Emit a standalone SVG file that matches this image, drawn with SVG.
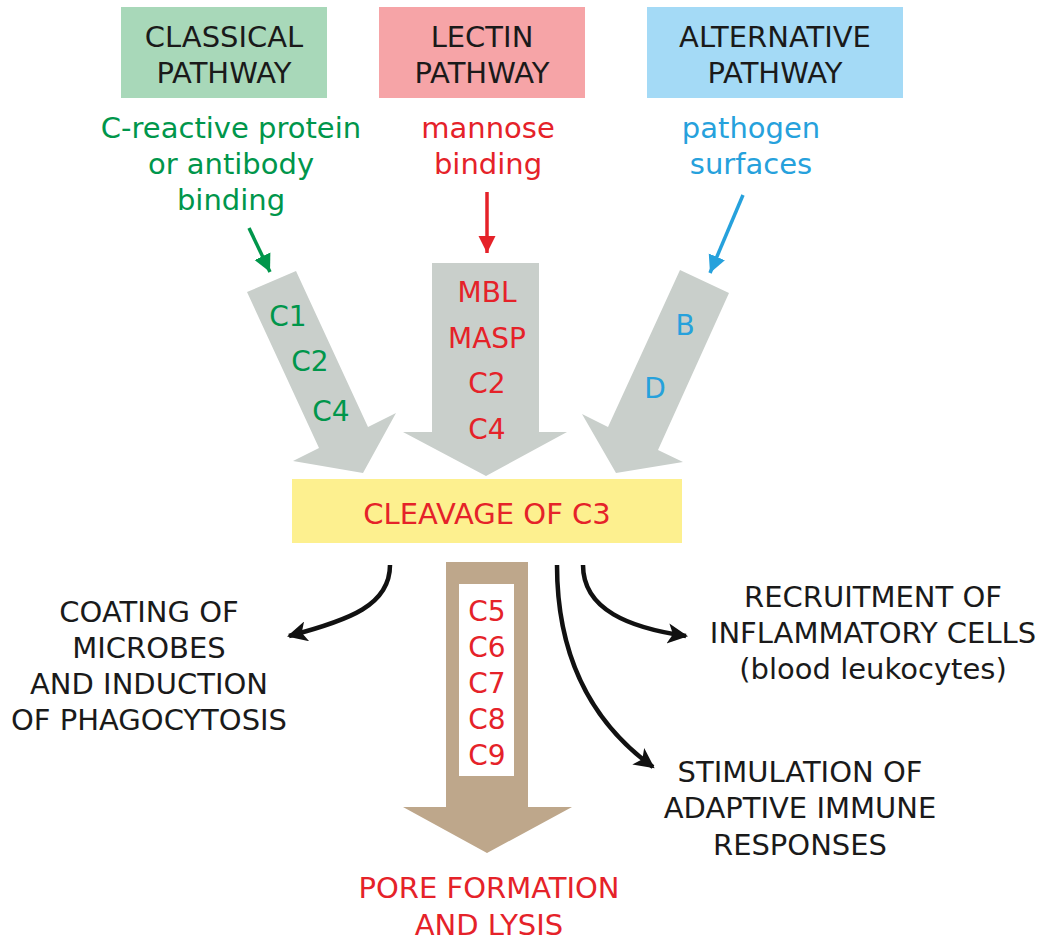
<svg xmlns="http://www.w3.org/2000/svg" width="1055" height="947" viewBox="0 0 1055 947">
<style>
text{font-family:"DejaVu Sans","Open Sans","Liberation Sans",sans-serif;font-size:29px;text-anchor:middle}
.blk{fill:#1a1a1a}
.grn{fill:#00964b}
.red{fill:#e52229}
.blu{fill:#26a1dc}
.gray{fill:#c9cfcb}
.conn{fill:none;stroke:#111;stroke-width:4.5}
.lbl{font-size:28px}
</style>
<defs>
<marker id="ah" viewBox="0 0 10 10" refX="9" refY="5" markerWidth="5" markerHeight="4.5" orient="auto" markerUnits="strokeWidth">
<path d="M0,0 L10,5 L0,10 L2.5,5 Z" fill="#111"/>
</marker>
<marker id="ahg" viewBox="0 0 10 10" refX="10" refY="5" markerWidth="5" markerHeight="5.5" orient="auto" markerUnits="strokeWidth">
<path d="M0,0 L10,5 L0,10 Z" fill="#00964b"/>
</marker>
<marker id="ahr" viewBox="0 0 10 10" refX="10" refY="5" markerWidth="5" markerHeight="5.5" orient="auto" markerUnits="strokeWidth">
<path d="M0,0 L10,5 L0,10 Z" fill="#e52229"/>
</marker>
<marker id="ahb" viewBox="0 0 10 10" refX="10" refY="5" markerWidth="5" markerHeight="5.5" orient="auto" markerUnits="strokeWidth">
<path d="M0,0 L10,5 L0,10 Z" fill="#26a1dc"/>
</marker>
</defs>
<rect width="1055" height="947" fill="#fff"/>

<g id="classical">
<rect x="121" y="7" width="206" height="91" fill="#a8d8b9"/>
<text class="blk" x="224" y="47">CLASSICAL</text>
<text class="blk" x="224" y="83">PATHWAY</text>
<text class="grn" x="231" y="138">C-reactive protein</text>
<text class="grn" x="231" y="174">or antibody</text>
<text class="grn" x="231" y="210">binding</text>
</g>

<g id="lectin">
<rect x="379" y="7" width="206" height="91" fill="#f6a4a7"/>
<text class="blk" x="482" y="47">LECTIN</text>
<text class="blk" x="482" y="83">PATHWAY</text>
<text class="red" x="488" y="138">mannose</text>
<text class="red" x="488" y="174">binding</text>
</g>

<g id="alternative">
<rect x="647" y="7" width="256" height="91" fill="#a4daf6"/>
<text class="blk" x="775" y="47">ALTERNATIVE</text>
<text class="blk" x="775" y="83">PATHWAY</text>
<text class="blu" x="751" y="138">pathogen</text>
<text class="blu" x="751" y="174">surfaces</text>
</g>

<g id="classical-arrow">
<polygon class="gray" points="247,292 296,271 368,427 396,413 363,473 293,461 319,448"/>
<text class="grn lbl" x="288" y="326">C1</text>
<text class="grn lbl" x="310" y="371">C2</text>
<text class="grn lbl" x="331" y="421">C4</text>
</g>

<g id="lectin-arrow">
<polygon class="gray" points="432,263 539,263 539,432 567,432 486,476 403,432 432,432"/>
<text class="red lbl" x="487" y="302">MBL</text>
<text class="red lbl" x="487" y="348">MASP</text>
<text class="red lbl" x="487" y="393">C2</text>
<text class="red lbl" x="487" y="439">C4</text>
</g>

<g id="alternative-arrow">
<polygon class="gray" points="680,270 729,293 658,450 683,462 616,473 582,414 608,427"/>
<text class="blu lbl" x="685" y="335">B</text>
<text class="blu lbl" x="655" y="398">D</text>
</g>

<g id="cleavage">
<rect x="292" y="479" width="390" height="64" fill="#fdf08f"/>
<text class="red" x="487" y="524">CLEAVAGE OF C3</text>
</g>

<g id="terminal">
<polygon fill="#bea78b" points="446,562 528,562 528,807 572,807 487,853 403,807 446,807"/>
<rect x="459" y="584" width="55" height="192" fill="#fff"/>
<text class="red lbl" x="487" y="621">C5</text>
<text class="red lbl" x="487" y="657">C6</text>
<text class="red lbl" x="487" y="693">C7</text>
<text class="red lbl" x="487" y="729">C8</text>
<text class="red lbl" x="487" y="765">C9</text>
</g>

<g id="pore">
<text class="red" x="489" y="898">PORE FORMATION</text>
<text class="red" x="489" y="935">AND LYSIS</text>
</g>

<g id="coating">
<text class="blk" x="149" y="622">COATING OF</text>
<text class="blk" x="149" y="658">MICROBES</text>
<text class="blk" x="149" y="694">AND INDUCTION</text>
<text class="blk" x="149" y="730">OF PHAGOCYTOSIS</text>
</g>

<g id="recruitment">
<text class="blk" x="873" y="607">RECRUITMENT OF</text>
<text class="blk" x="873" y="643">INFLAMMATORY CELLS</text>
<text class="blk" x="873" y="679">(blood leukocytes)</text>
</g>

<g id="stimulation">
<text class="blk" x="800" y="782">STIMULATION OF</text>
<text class="blk" x="800" y="818">ADAPTIVE IMMUNE</text>
<text class="blk" x="800" y="855">RESPONSES</text>
</g>

<g id="connectors">
<line x1="249" y1="228" x2="270" y2="272" stroke="#00964b" stroke-width="3.5" marker-end="url(#ahg)"/>
<line x1="487" y1="192" x2="487" y2="253" stroke="#e52229" stroke-width="3.5" marker-end="url(#ahr)"/>
<line x1="743" y1="195" x2="710" y2="273" stroke="#26a1dc" stroke-width="3.5" marker-end="url(#ahb)"/>
<path class="conn" d="M390,565 C390,605 350,620 289,636" marker-end="url(#ah)"/>
<path class="conn" d="M583,565 C583,610 630,628 686,636" marker-end="url(#ah)"/>
<path class="conn" d="M557,565 C557,660 595,725 653,767" marker-end="url(#ah)"/>
</g>
</svg>
